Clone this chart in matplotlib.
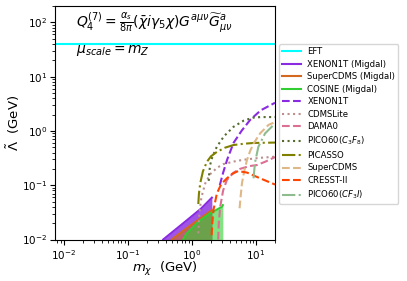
import numpy as np
import matplotlib
matplotlib.use("Agg")
import matplotlib.pyplot as plt

# ---- data ----
eft_level = 40.0

xe_mig_m = [0.36, 0.8, 1.4, 2.07]
xe_mig_L = [0.010, 0.0215, 0.037, 0.059]

scdms_mig_m = [0.49, 0.9, 1.4, 2.07]
scdms_mig_L = [0.010, 0.0172, 0.025, 0.035]

cosine_m = [0.74, 0.82, 0.95, 1.28, 1.95, 2.96, 3.07]
cosine_L = [0.010, 0.0125, 0.0149, 0.0213, 0.0304, 0.040, 0.043]

xe_m = [2.75, 3.1, 3.6, 4.5, 6.0, 8.2, 12.0, 20.0]
xe_L = [0.10, 0.17, 0.30, 0.60, 1.0, 1.6, 2.4, 3.3]

cdmslite_m = [1.27, 1.32, 1.42, 1.63, 1.95, 2.5, 3.14, 5.0, 7.3, 12.0, 20.0]
cdmslite_L = [0.013, 0.03, 0.06, 0.108, 0.16, 0.21, 0.245, 0.28, 0.30, 0.32, 0.335]

dama_m = [2.6, 2.65, 2.79, 3.1, 3.55, 4.5, 5.7, 8.0, 10.4, 14.0, 20.0]
dama_L = [0.010, 0.02, 0.04, 0.08, 0.125, 0.17, 0.2, 0.225, 0.235, 0.27, 0.33]

pico_c3f8_m = [1.85, 1.88, 1.95, 2.1, 2.47, 3.2, 4.5, 6.5, 9.0, 12.0, 20.0]
pico_c3f8_L = [0.12, 0.17, 0.24, 0.33, 0.51, 0.8, 1.19, 1.55, 1.75, 1.8, 1.8]

picasso_m = [1.27, 1.30, 1.36, 1.5, 1.73, 2.0, 2.47, 3.3, 4.5, 6.5, 9.25, 20.0]
picasso_L = [0.045, 0.07, 0.108, 0.18, 0.27, 0.34, 0.41, 0.49, 0.55, 0.58, 0.6, 0.61]

scdms_m = [5.6, 5.8, 6.1, 6.6, 7.3, 8.2, 9.3, 11.7, 15.8, 20.0]
scdms_L = [0.0376, 0.06, 0.108, 0.18, 0.29, 0.43, 0.59, 0.9, 1.29, 1.45]

cresst_m = [2.05, 2.1, 2.19, 2.48, 2.9, 3.55, 4.3, 5.3, 7.3, 11.7, 20.0]
cresst_L = [0.012, 0.02, 0.035, 0.071, 0.105, 0.134, 0.162, 0.182, 0.171, 0.134, 0.103]

pico_cf3i_m = [9.25, 9.5, 9.8, 11.0, 14.0, 19.0, 20.0]
pico_cf3i_L = [0.134, 0.19, 0.27, 0.51, 0.9, 1.29, 1.35]

fig = plt.figure(figsize=(4.07, 2.81), dpi=100)
ax = fig.add_axes([55.5/407, 1-239.5/281, (275-55.5)/407, (239.5-6)/281])

ax.axhline(eft_level, color='aqua', lw=1.5, label='EFT')

ax.fill_between(xe_mig_m, 1e-3, xe_mig_L, color='blueviolet', alpha=0.8, lw=0)
ax.plot(xe_mig_m, xe_mig_L, color='blueviolet', lw=1.5, label='XENON1T (Migdal)')
ax.fill_between(scdms_mig_m, 1e-3, scdms_mig_L, color='chocolate', alpha=0.6, lw=0)
ax.plot(scdms_mig_m, scdms_mig_L, color='chocolate', lw=1.5, label='SuperCDMS (Migdal)')
ax.fill_between(cosine_m, 1e-3, cosine_L, color='limegreen', alpha=0.6, lw=0)
ax.plot(cosine_m, cosine_L, color='limegreen', lw=1.5, label='COSINE (Migdal)')

ax.plot(xe_m, xe_L, color='blueviolet', ls='--', lw=1.5, label='XENON1T')
ax.plot(cdmslite_m, cdmslite_L, color='rosybrown', ls=':', lw=1.5, label='CDMSLite')
ax.plot(dama_m, dama_L, color='palevioletred', ls='--', lw=1.5, label='DAMA0')
ax.plot(pico_c3f8_m, pico_c3f8_L, color='darkolivegreen', ls=':', lw=1.5, label=r'PICO60($C_3F_8$)')
ax.plot(picasso_m, picasso_L, color='olive', ls='-.', lw=1.5, label='PICASSO')
ax.plot(scdms_m, scdms_L, color='burlywood', ls='--', lw=1.5, label='SuperCDMS')
ax.plot(cresst_m, cresst_L, color='orangered', ls='--', lw=1.5, label='CRESST-II')
ax.plot(pico_cf3i_m, pico_cf3i_L, color='darkseagreen', ls='-.', lw=1.5, label=r'PICO60($CF_3I$)')

ax.set_xscale('log')
ax.set_yscale('log')
ax.set_xlim(0.0075, 20)
ax.set_ylim(0.01, 200)
ax.tick_params(labelsize=7.5, pad=2.5)
ax.set_xlabel(r'$m_\chi$  (GeV)', fontsize=9.5, labelpad=-1)
ax.set_ylabel(r'$\tilde{\Lambda}$  (GeV)', fontsize=9.5, labelpad=0)

ax.text(0.095, 0.93, r'$Q_4^{(7)}=\frac{\alpha_s}{8\pi}(\bar{\chi}i\gamma_5\chi)G^{a\mu\nu}\widetilde{G}^{a}_{\mu\nu}$',
        transform=ax.transAxes, fontsize=10, va='center', ha='left')
ax.text(0.095, 0.81, r'$\mu_{scale}=m_Z$', transform=ax.transAxes, fontsize=10, va='center', ha='left')

fig.legend(loc='upper left', bbox_to_anchor=(279/407, 1-44/281), bbox_transform=fig.transFigure,
           borderaxespad=0, fontsize=6.1, labelspacing=0.42, handlelength=2.3,
           handletextpad=0.7, borderpad=0.35)

fig.savefig('out.png', dpi=100)
